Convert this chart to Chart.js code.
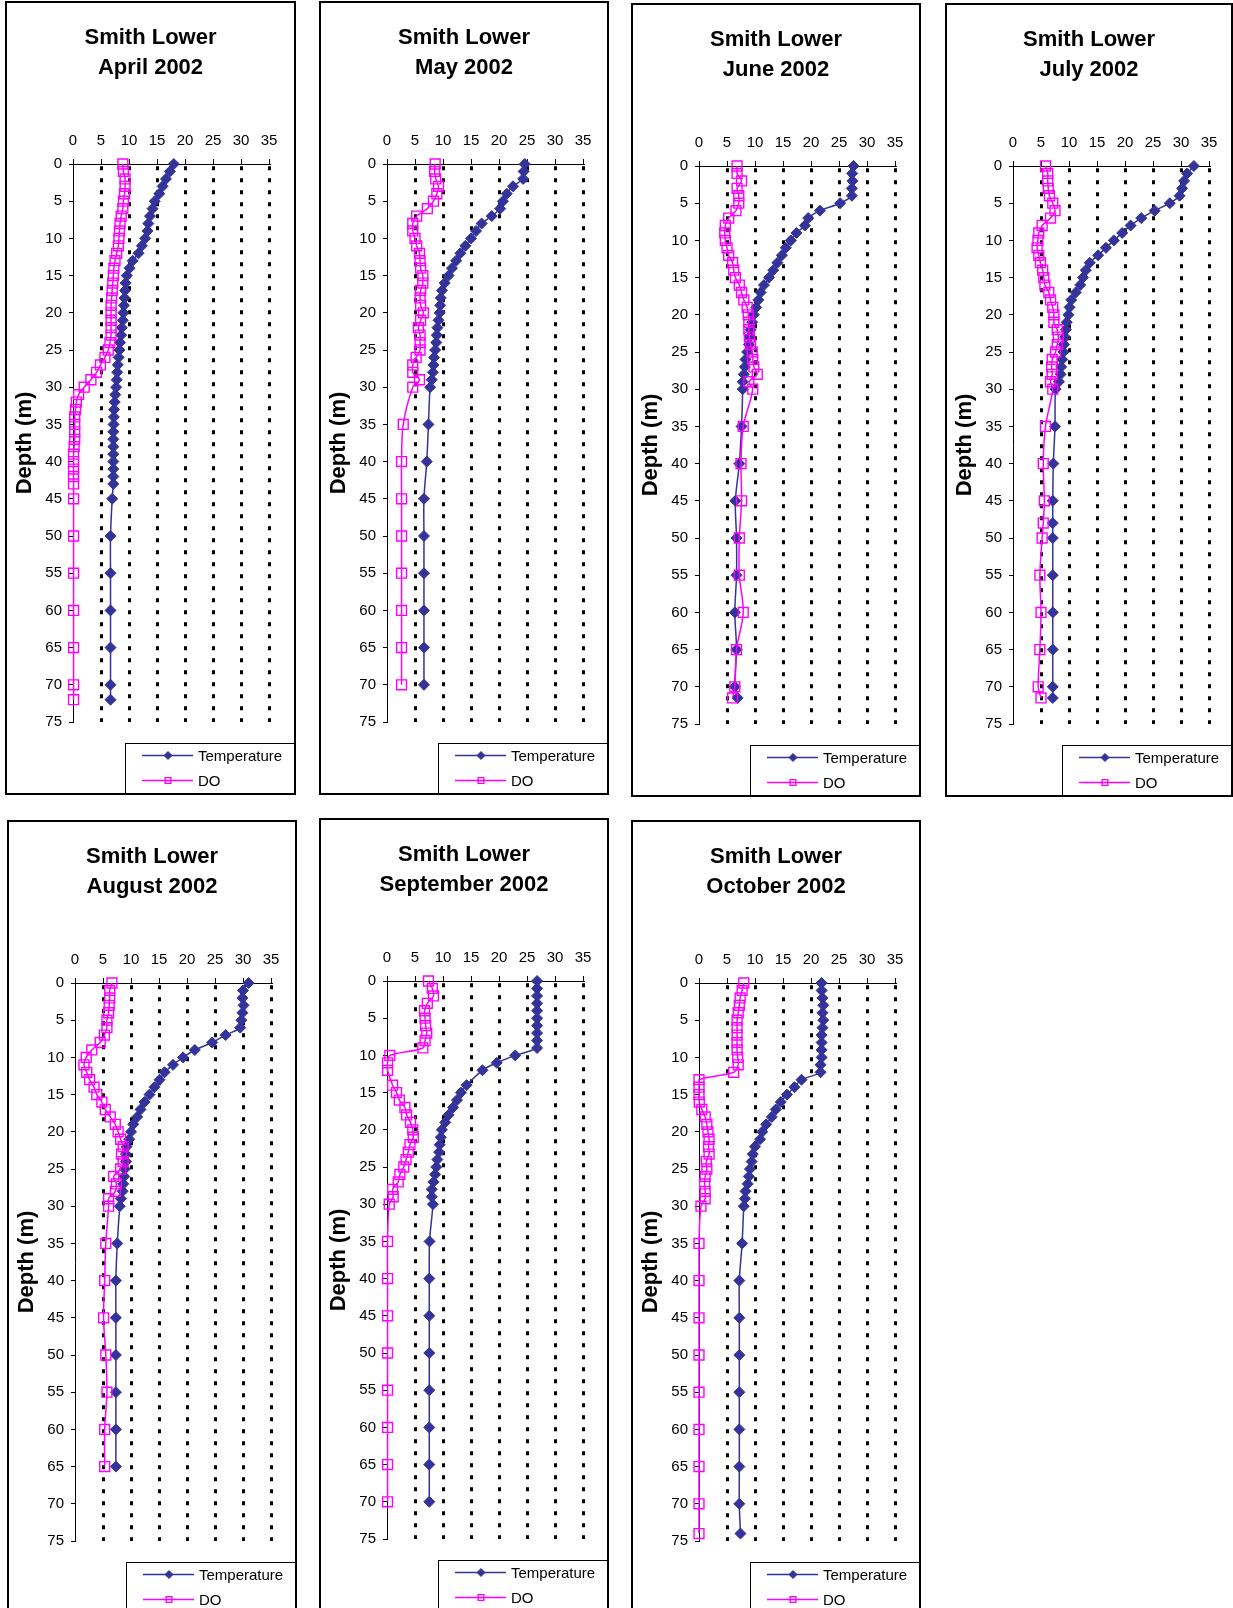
<!DOCTYPE html>
<html>
<head>
<meta charset="utf-8">
<title>Smith Lower 2002 profiles</title>
<script src="https://cdn.jsdelivr.net/npm/chart.js@4.4.1/dist/chart.umd.min.js"></script>
<style>
  body { margin: 0; width: 1233px; height: 1608px; overflow: hidden; background: #fff; position: relative; }
  .panel { position: absolute; height: 794px; border: 2px solid #000; box-sizing: border-box; background: #fff; }
  .panel canvas { position: absolute; left: 0; top: 0; }
</style>
</head>
<body>
<div class="panel" style="left:5px;top:1px;width:291px"><canvas id="chartApr"></canvas></div>
<div class="panel" style="left:319px;top:1px;width:290px"><canvas id="chartMay"></canvas></div>
<div class="panel" style="left:631px;top:3px;width:290px"><canvas id="chartJun"></canvas></div>
<div class="panel" style="left:945px;top:3px;width:288px"><canvas id="chartJul"></canvas></div>
<div class="panel" style="left:7px;top:820px;width:290px"><canvas id="chartAug"></canvas></div>
<div class="panel" style="left:319px;top:818px;width:290px"><canvas id="chartSep"></canvas></div>
<div class="panel" style="left:631px;top:820px;width:290px"><canvas id="chartOct"></canvas></div>
<script>
// Depth profiles (m), temperature (C) and dissolved oxygen (mg/L)
const depthApr = [0, 1, 2, 3, 4, 5, 6, 7, 8, 9, 10, 11, 12, 13, 14, 15, 16, 17, 18, 19, 20, 21, 22, 23, 24, 25, 26, 27, 28, 29, 30, 31, 32, 33, 34, 35, 36, 37, 38, 39, 40, 41, 42, 43, 45, 50, 55, 60, 65, 70, 72];
const tempApr = [18.0, 17.3, 16.6, 16.0, 15.4, 14.6, 14.2, 13.75, 13.45, 13.3, 12.9, 12.3, 11.7, 10.65, 10.1, 9.6, 9.4, 9.3, 9.2, 9.1, 9.0, 8.9, 8.7, 8.6, 8.4, 8.3, 8.15, 8.0, 7.9, 7.8, 7.7, 7.55, 7.45, 7.35, 7.3, 7.25, 7.2, 7.2, 7.2, 7.2, 7.2, 7.2, 7.2, 7.2, 7.0, 6.7, 6.7, 6.7, 6.7, 6.7, 6.7];
const doApr = [8.9, 9.0, 9.3, 9.3, 9.2, 9.0, 8.9, 8.6, 8.4, 8.3, 8.2, 8.1, 7.8, 7.5, 7.3, 7.2, 7.1, 7.0, 6.9, 6.8, 6.8, 6.8, 6.8, 6.8, 6.6, 6.3, 5.7, 4.9, 4.2, 3.2, 2.0, 1.0, 0.6, 0.45, 0.3, 0.3, 0.3, 0.3, 0.2, 0.1, 0.1, 0.1, 0.1, 0.1, 0.1, 0.1, 0.1, 0.1, 0.1, 0.1, 0.1];

const depthMay = [0, 1, 2, 3, 4, 5, 6, 7, 8, 9, 10, 11, 12, 13, 14, 15, 16, 17, 18, 19, 20, 21, 22, 23, 24, 25, 26, 27, 28, 29, 30, 35, 40, 45, 50, 55, 60, 65, 70];
const tempMay = [24.6, 24.4, 24.3, 22.5, 21.4, 20.7, 20.2, 18.7, 16.9, 15.9, 15.0, 14.0, 13.1, 12.35, 11.6, 11.0, 10.3, 9.8, 9.6, 9.5, 9.4, 9.2, 9.0, 8.9, 8.8, 8.6, 8.4, 8.3, 8.2, 8.0, 7.7, 7.4, 7.1, 6.6, 6.6, 6.6, 6.6, 6.6, 6.6];
const doMay = [8.6, 8.5, 8.7, 9.2, 8.9, 8.3, 7.2, 5.3, 4.6, 4.6, 5.0, 5.3, 5.8, 5.9, 6.0, 6.4, 6.4, 6.0, 5.9, 6.0, 6.5, 6.0, 5.6, 5.9, 5.9, 5.9, 5.2, 4.6, 4.6, 5.8, 4.6, 2.9, 2.6, 2.6, 2.6, 2.6, 2.6, 2.6, 2.6];

const depthJun = [0, 1, 2, 3, 4, 5, 6, 7, 8, 9, 10, 11, 12, 13, 14, 15, 16, 17, 18, 19, 20, 21, 22, 23, 24, 25, 26, 27, 28, 29, 30, 35, 40, 45, 50, 55, 60, 65, 70, 71.5];
const tempJun = [27.6, 27.35, 27.4, 27.3, 27.3, 25.2, 21.6, 19.5, 18.9, 17.4, 16.4, 15.5, 14.8, 14.0, 13.25, 12.5, 11.6, 11.0, 10.6, 10.2, 9.8, 9.5, 9.2, 9.0, 8.9, 8.6, 8.3, 8.2, 8.0, 7.8, 7.8, 7.6, 7.2, 6.5, 6.7, 6.7, 6.4, 6.7, 6.4, 6.9];
const doJun = [6.8, 6.8, 7.6, 6.8, 7.1, 7.1, 6.6, 5.3, 4.7, 4.6, 4.7, 5.0, 5.3, 6.0, 6.2, 6.5, 7.2, 7.6, 8.0, 8.6, 8.8, 8.9, 8.9, 9.0, 9.2, 9.5, 9.6, 9.8, 10.4, 8.9, 9.6, 7.9, 7.5, 7.6, 7.2, 7.2, 7.9, 6.7, 6.4, 6.0];

const depthJul = [0, 1, 2, 3, 4, 5, 6, 7, 8, 9, 10, 11, 12, 13, 14, 15, 16, 17, 18, 19, 20, 21, 22, 23, 24, 25, 26, 27, 28, 29, 30, 35, 40, 45, 48, 50, 55, 60, 65, 70, 71.5];
const tempJul = [32.3, 31.1, 30.55, 30.2, 29.75, 28.0, 25.3, 22.9, 21.0, 19.5, 18.0, 16.6, 15.2, 13.7, 13.0, 12.5, 12.0, 11.2, 10.4, 10.1, 9.9, 9.6, 9.45, 9.3, 9.1, 9.0, 8.8, 8.6, 8.5, 8.2, 7.6, 7.5, 7.2, 7.1, 7.1, 7.1, 7.1, 7.1, 7.1, 7.1, 7.1];
const doJul = [5.8, 6.2, 6.2, 6.3, 6.5, 7.1, 7.5, 6.7, 5.2, 4.6, 4.45, 4.3, 4.6, 4.9, 5.3, 5.5, 5.7, 6.4, 6.7, 7.1, 7.3, 7.3, 7.9, 8.1, 7.9, 7.6, 7.0, 6.9, 7.0, 6.7, 7.1, 5.8, 5.4, 5.6, 5.4, 5.2, 4.8, 5.0, 4.8, 4.5, 5.0];

const depthAug = [0, 1, 2, 3, 4, 5, 6, 7, 8, 9, 10, 11, 12, 13, 14, 15, 16, 17, 18, 19, 20, 21, 22, 23, 24, 25, 26, 27, 28, 29, 30, 35, 40, 45, 50, 55, 60, 65];
const tempAug = [31.0, 30.0, 29.9, 30.1, 29.9, 29.7, 29.5, 26.9, 24.5, 21.4, 19.3, 17.5, 16.0, 15.1, 14.2, 13.3, 12.4, 11.7, 11.1, 10.4, 10.0, 9.7, 9.2, 9.1, 9.1, 8.9, 8.8, 8.6, 8.5, 8.2, 8.0, 7.55, 7.3, 7.3, 7.3, 7.3, 7.3, 7.3];
const doAug = [6.6, 6.2, 6.2, 6.1, 6.0, 5.7, 5.7, 5.25, 4.5, 3.0, 2.0, 1.6, 2.1, 2.6, 3.4, 3.9, 4.8, 5.4, 6.3, 7.2, 7.7, 8.15, 8.6, 8.3, 8.6, 8.15, 6.9, 7.4, 7.2, 6.0, 6.0, 5.5, 5.3, 5.1, 5.5, 5.7, 5.3, 5.3];

const depthSep = [0, 1, 2, 3, 4, 5, 6, 7, 8, 9, 10, 11, 12, 14, 15, 16, 17, 18, 19, 20, 21, 22, 23, 24, 25, 26, 27, 28, 29, 30, 35, 40, 45, 50, 55, 60, 65, 70];
const tempSep = [26.8, 26.8, 26.8, 26.8, 26.8, 26.8, 26.8, 26.8, 26.8, 26.8, 22.9, 19.6, 17.05, 14.2, 13.2, 12.5, 11.8, 11.0, 10.4, 9.8, 9.6, 9.4, 9.3, 9.0, 8.8, 8.6, 8.3, 8.0, 8.0, 8.2, 7.6, 7.55, 7.55, 7.55, 7.55, 7.55, 7.55, 7.55];
const doSep = [7.4, 8.1, 8.3, 7.2, 6.7, 6.8, 6.9, 7.1, 6.8, 6.4, 0.5, 0.1, 0.1, 1.0, 1.7, 2.2, 3.2, 3.5, 4.2, 4.6, 4.7, 4.1, 3.8, 3.4, 3.0, 2.3, 2.0, 1.0, 1.1, 0.4, 0.1, 0.1, 0.1, 0.1, 0.1, 0.1, 0.1, 0.1];

const depthOct = [0, 1, 2, 3, 4, 5, 6, 7, 8, 9, 10, 11, 12, 13, 14, 15, 16, 17, 18, 19, 20, 21, 22, 23, 24, 25, 26, 27, 28, 29, 30, 35, 40, 45, 50, 55, 60, 65, 70, 74];
const tempOct = [21.9, 21.9, 22.05, 22.2, 22.05, 22.2, 22.05, 21.9, 21.9, 21.9, 21.9, 21.7, 21.7, 18.3, 17.05, 15.7, 14.6, 13.7, 13.0, 12.0, 11.3, 10.9, 10.0, 9.6, 9.4, 9.1, 8.9, 8.7, 8.3, 8.2, 8.0, 7.7, 7.2, 7.2, 7.2, 7.2, 7.2, 7.2, 7.2, 7.4];
const doOct = [8.0, 7.7, 7.35, 7.2, 7.0, 6.8, 6.8, 6.8, 6.8, 6.8, 6.9, 7.0, 6.2, 0.0, 0.0, 0.0, 0.05, 0.5, 1.1, 1.4, 1.6, 1.8, 1.7, 1.8, 1.3, 1.4, 1.1, 1.0, 1.1, 1.1, 0.35, 0.0, 0.0, 0.0, 0.0, 0.0, 0.0, 0.0, 0.0, 0.0];

const tempTicks = [0, 5, 10, 15, 20, 25, 30, 35];
const depthTicks = [0, 5, 10, 15, 20, 25, 30, 35, 40, 45, 50, 55, 60, 65, 70, 75];

const theme = {
  temp: '#333399',
  oxygen: '#ff00ff',
  text: '#000000',
  font: '"Liberation Sans", Arial, sans-serif',
};

Chart.defaults.font.family = theme.font;
Chart.defaults.color = theme.text;

// Plot box inside each canvas (px)
const plotLeft = 66;
const plotWidth = 196;
const plotBottomPad = 71;

function toPoints(depths, values) {
  return values.map((v, i) => ({ x: v, y: depths[i] }));
}

// Boxed legend sitting in the lower right corner of each panel
const legendBox = {
  id: 'legendBox',
  afterDraw(chart) {
    const { ctx, width, height } = chart;
    const left = width - 169;
    const top = height - 50;
    ctx.save();
    ctx.strokeStyle = '#000';
    ctx.lineWidth = 1;
    ctx.strokeRect(left + 0.5, top + 0.5, 220, 120);
    ctx.font = `15px ${theme.font}`;
    ctx.textBaseline = 'middle';
    chart.data.datasets.forEach((ds, i) => {
      const y = top + 12.5 + i * 25;
      ctx.strokeStyle = ds.borderColor;
      ctx.lineWidth = ds.borderWidth;
      ctx.beginPath();
      ctx.moveTo(left + 17, y);
      ctx.lineTo(left + 68, y);
      ctx.stroke();
      ctx.fillStyle = ds.pointBackgroundColor;
      ctx.strokeStyle = ds.pointBorderColor;
      ctx.lineWidth = ds.pointBorderWidth;
      Chart.helpers.drawPoint(ctx, {
        pointStyle: ds.pointStyle,
        radius: ds.legendRadius,
        borderWidth: ds.pointBorderWidth,
        rotation: 0,
      }, left + 43, y);
      ctx.fillStyle = theme.text;
      ctx.fillText(ds.label, left + 73, y + 1);
    });
    ctx.restore();
  },
};

function createProfileChart(canvasId, month, depths, temps, oxygen) {
  const canvas = document.getElementById(canvasId);
  if (!canvas) return null;

  const panel = canvas.parentElement;
  canvas.width = panel.clientWidth;
  canvas.height = panel.clientHeight;
  const rightGap = canvas.width - plotLeft - plotWidth;

  const ctx = canvas.getContext('2d');
  return new Chart(ctx, {
    type: 'scatter',
    data: {
      datasets: [{
        label: 'Temperature',
        data: toPoints(depths, temps),
        showLine: true,
        borderColor: theme.temp,
        borderWidth: 1.5,
        tension: 0.33,
        pointStyle: 'rectRot',
        pointRadius: 5.5,
        pointBackgroundColor: theme.temp,
        pointBorderColor: theme.temp,
        pointBorderWidth: 1,
        legendRadius: 4,
        clip: false,
        order: 1,
      }, {
        label: 'DO',
        data: toPoints(depths, oxygen),
        showLine: true,
        borderColor: theme.oxygen,
        borderWidth: 1.5,
        tension: 0.33,
        pointStyle: 'rect',
        pointRadius: 7,
        pointBackgroundColor: 'rgba(0,0,0,0)',
        pointBorderColor: theme.oxygen,
        pointBorderWidth: 1.4,
        legendRadius: 4,
        clip: false,
        order: 0,
      }],
    },
    options: {
      responsive: false,
      animation: false,
      events: [],
      layout: {
        padding: { left: 0, top: 0, right: 0, bottom: plotBottomPad },
      },
      plugins: {
        legend: { display: false },
        tooltip: { enabled: false },
        title: {
          display: true,
          text: ['Smith Lower', `${month} 2002`],
          color: theme.text,
          font: { size: 22, weight: 'bold', lineHeight: 30 / 22 },
          padding: { top: 19.5, bottom: 41.5 },
        },
      },
      scales: {
        x: {
          type: 'linear',
          position: 'top',
          min: tempTicks[0],
          max: tempTicks[tempTicks.length - 1],
          afterFit: (scale) => { scale.height = 40; },
          afterBuildTicks: (scale) => { scale.ticks = tempTicks.map((v) => ({ value: v })); },
          ticks: { color: theme.text, font: { size: 15 }, padding: 9, maxRotation: 0 },
          grid: {
            color: (c) => (c.tick && c.tick.value === 0 ? 'rgba(0,0,0,0)' : '#000'),
            lineWidth: 3,
            drawTicks: true,
            tickLength: 5,
            tickColor: '#000',
            tickWidth: 1,
            tickBorderDash: [],
          },
          // dash here styles the dotted grid lines, the axis line stays solid
          border: { display: true, color: '#000', width: 1, dash: [4, 8], dashOffset: 10.7 },
        },
        y: {
          type: 'linear',
          position: 'left',
          reverse: true,
          min: depthTicks[0],
          max: depthTicks[depthTicks.length - 1],
          afterFit: (scale) => { scale.width = plotLeft; },
          afterBuildTicks: (scale) => { scale.ticks = depthTicks.map((v) => ({ value: v })); },
          ticks: { color: theme.text, font: { size: 15 }, padding: 7 },
          grid: {
            drawOnChartArea: false,
            drawTicks: true,
            tickLength: 4,
            tickColor: '#000',
            tickWidth: 1,
            color: '#000',
          },
          border: { display: true, color: '#000', width: 1 },
          title: {
            display: true,
            text: 'Depth (m)',
            color: theme.text,
            font: { size: 22, weight: 'bold' },
            padding: { top: 5, bottom: 0 },
          },
        },
        // empty strip on the right so the titles stay centred on the panel
        gap: {
          type: 'linear',
          position: 'right',
          display: true,
          afterFit: (scale) => { scale.width = rightGap; },
          ticks: { display: false },
          grid: { display: false, drawTicks: false },
          border: { display: false },
        },
      },
    },
    plugins: [legendBox],
  });
}

createProfileChart('chartApr', 'April', depthApr, tempApr, doApr);
createProfileChart('chartMay', 'May', depthMay, tempMay, doMay);
createProfileChart('chartJun', 'June', depthJun, tempJun, doJun);
createProfileChart('chartJul', 'July', depthJul, tempJul, doJul);
createProfileChart('chartAug', 'August', depthAug, tempAug, doAug);
createProfileChart('chartSep', 'September', depthSep, tempSep, doSep);
createProfileChart('chartOct', 'October', depthOct, tempOct, doOct);
</script>
</body>
</html>
